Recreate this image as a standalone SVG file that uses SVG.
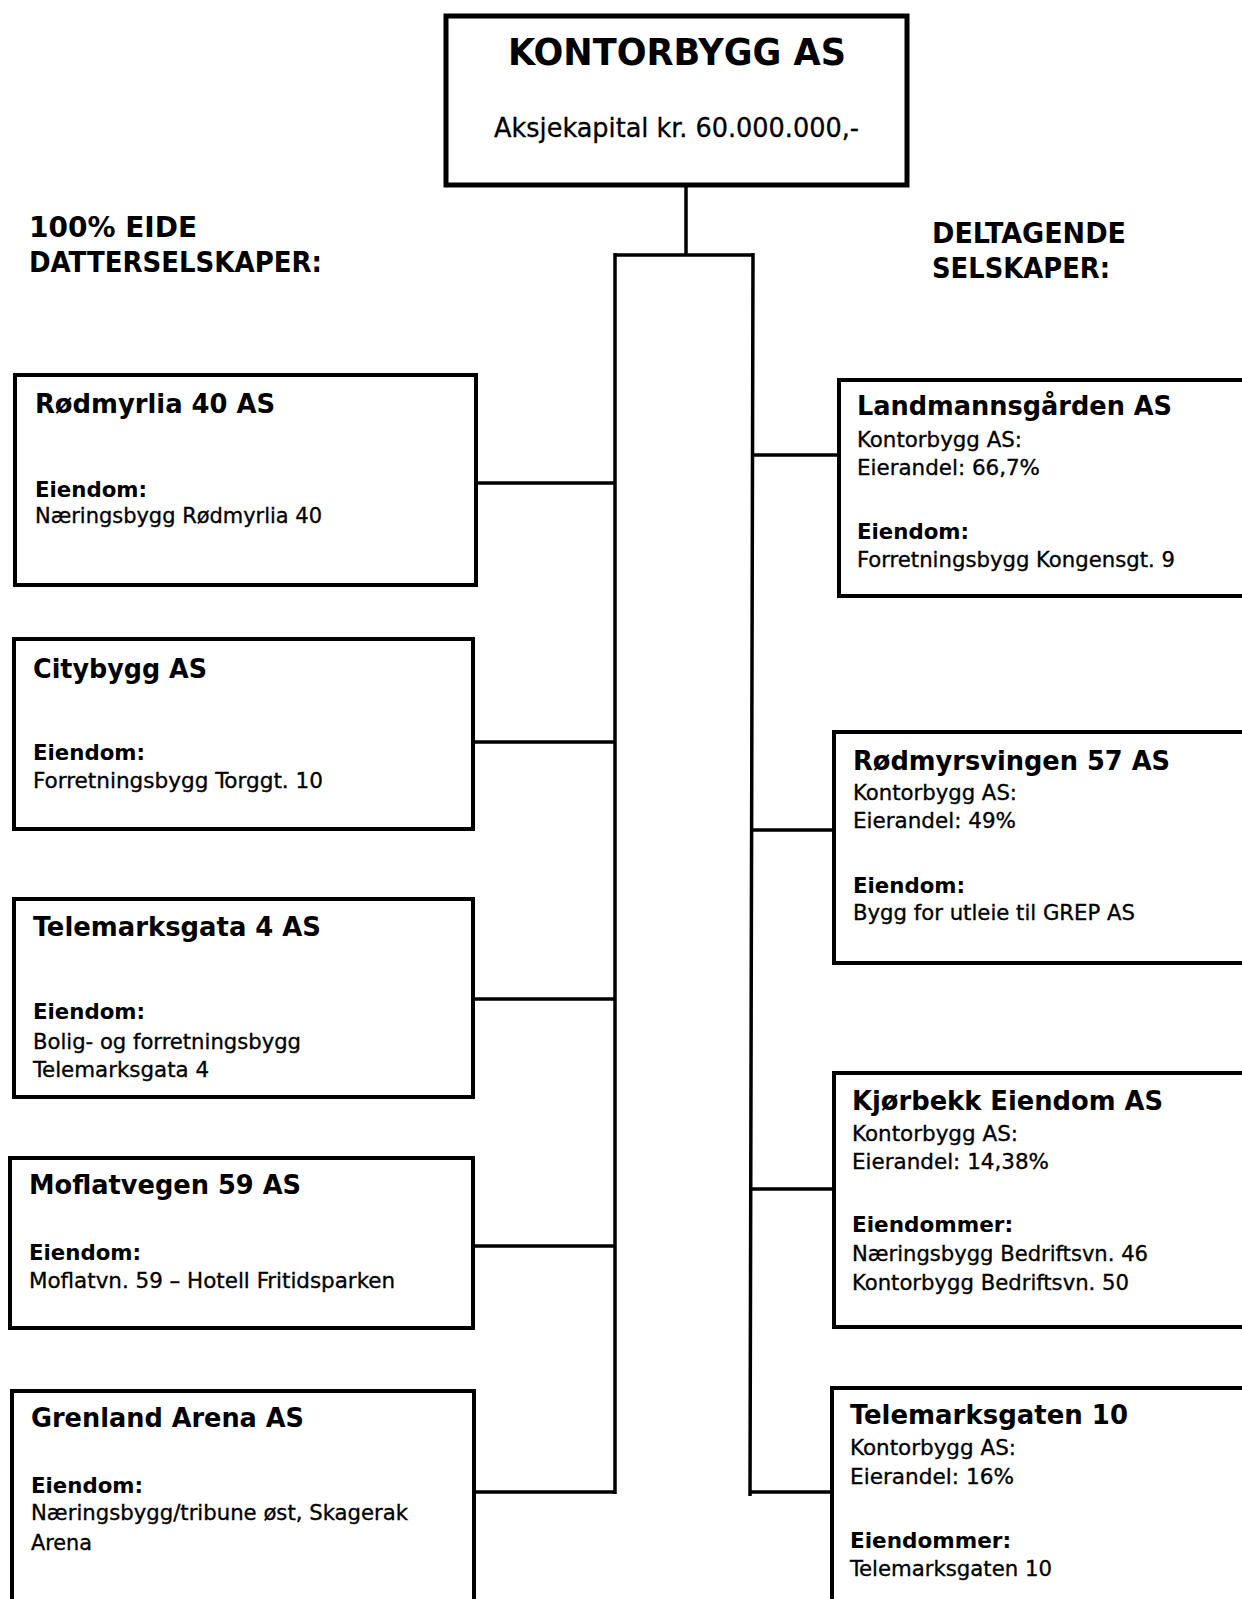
<svg xmlns="http://www.w3.org/2000/svg" width="1242" height="1599" viewBox="0 0 1242 1599">
<style>
text{font-family:"DejaVu Sans Condensed","DejaVu Sans",Verdana,sans-serif;fill:#000}
.t{font-size:27px;font-weight:bold}
.b{font-size:21px;font-weight:bold}
.n{font-size:21px;stroke:#000;stroke-width:0.3}
.h{font-size:28px;font-weight:bold}
.box{fill:#fff;stroke:#000;stroke-width:4}
.c{stroke:#000;stroke-width:3.5;fill:none}
</style>
<rect width="1242" height="1599" fill="#fff"/>
<g id="connectors">
<path class="c" d="M686,187 V255 M615,255 H753 M615,253 V1494 M753,253 L750,1496"/>
<path class="c" d="M478,483 H615 M475,742 H615 M475,999 H615 M475,1246 H615 M476,1492 H615"/>
<path class="c" d="M753,455 H837 M752,830 H832 M751,1189 H832 M750,1492 H830"/>
</g>
<g id="kontorbygg">
<rect x="446" y="16" width="461" height="169" fill="#fff" stroke="#000" stroke-width="5"/>
<text x="508" y="65" font-size="37" font-weight="bold" textLength="338" lengthAdjust="spacingAndGlyphs">KONTORBYGG AS</text>
<text x="494" y="137" font-size="27" stroke="#000" stroke-width="0.3" textLength="365" lengthAdjust="spacingAndGlyphs">Aksjekapital kr. 60.000.000,-</text>
</g>
<g id="header-left">
<text class="h" x="29" y="237" textLength="168" lengthAdjust="spacingAndGlyphs">100% EIDE</text>
<text class="h" x="29" y="272" textLength="293" lengthAdjust="spacingAndGlyphs">DATTERSELSKAPER:</text>
</g>
<g id="header-right">
<text class="h" x="932" y="243" textLength="194" lengthAdjust="spacingAndGlyphs">DELTAGENDE</text>
<text class="h" x="932" y="278" textLength="178" lengthAdjust="spacingAndGlyphs">SELSKAPER:</text>
</g>
<g id="rodmyrlia">
<rect class="box" x="15" y="375" width="461" height="210"/>
<text class="t" x="35" y="413" textLength="240" lengthAdjust="spacingAndGlyphs">Rødmyrlia 40 AS</text>
<text class="b" x="35" y="497" textLength="112" lengthAdjust="spacingAndGlyphs">Eiendom:</text>
<text class="n" x="35" y="523" textLength="287" lengthAdjust="spacingAndGlyphs">Næringsbygg Rødmyrlia 40</text>
</g>
<g id="citybygg">
<rect class="box" x="14" y="639" width="459" height="190"/>
<text class="t" x="33" y="678" textLength="174" lengthAdjust="spacingAndGlyphs">Citybygg AS</text>
<text class="b" x="33" y="760" textLength="112" lengthAdjust="spacingAndGlyphs">Eiendom:</text>
<text class="n" x="33" y="788" textLength="290" lengthAdjust="spacingAndGlyphs">Forretningsbygg Torggt. 10</text>
</g>
<g id="telemarksgata4">
<rect class="box" x="14" y="899" width="459" height="198"/>
<text class="t" x="33" y="936" textLength="288" lengthAdjust="spacingAndGlyphs">Telemarksgata 4 AS</text>
<text class="b" x="33" y="1019" textLength="112" lengthAdjust="spacingAndGlyphs">Eiendom:</text>
<text class="n" x="33" y="1049" textLength="268" lengthAdjust="spacingAndGlyphs">Bolig- og forretningsbygg</text>
<text class="n" x="33" y="1077" textLength="176" lengthAdjust="spacingAndGlyphs">Telemarksgata 4</text>
</g>
<g id="moflatvegen">
<rect class="box" x="10" y="1158" width="463" height="170"/>
<text class="t" x="29" y="1194" textLength="272" lengthAdjust="spacingAndGlyphs">Moflatvegen 59 AS</text>
<text class="b" x="29" y="1260" textLength="112" lengthAdjust="spacingAndGlyphs">Eiendom:</text>
<text class="n" x="29" y="1288" textLength="366" lengthAdjust="spacingAndGlyphs">Moflatvn. 59 – Hotell Fritidsparken</text>
</g>
<g id="grenland">
<rect class="box" x="12" y="1391" width="462" height="260"/>
<text class="t" x="31" y="1427" textLength="273" lengthAdjust="spacingAndGlyphs">Grenland Arena AS</text>
<text class="b" x="31" y="1493" textLength="112" lengthAdjust="spacingAndGlyphs">Eiendom:</text>
<text class="n" x="31" y="1520" textLength="377" lengthAdjust="spacingAndGlyphs">Næringsbygg/tribune øst, Skagerak</text>
<text class="n" x="31" y="1550" textLength="61" lengthAdjust="spacingAndGlyphs">Arena</text>
</g>
<g id="landmannsgarden">
<rect class="box" x="839" y="380" width="440" height="216"/>
<text class="t" x="857" y="415" textLength="315" lengthAdjust="spacingAndGlyphs">Landmannsgården AS</text>
<text class="n" x="857" y="447" textLength="165" lengthAdjust="spacingAndGlyphs">Kontorbygg AS:</text>
<text class="n" x="857" y="475" textLength="183" lengthAdjust="spacingAndGlyphs">Eierandel: 66,7%</text>
<text class="b" x="857" y="539" textLength="112" lengthAdjust="spacingAndGlyphs">Eiendom:</text>
<text class="n" x="857" y="567" textLength="318" lengthAdjust="spacingAndGlyphs">Forretningsbygg Kongensgt. 9</text>
</g>
<g id="rodmyrsvingen">
<rect class="box" x="834" y="732" width="440" height="231"/>
<text class="t" x="853" y="770" textLength="317" lengthAdjust="spacingAndGlyphs">Rødmyrsvingen 57 AS</text>
<text class="n" x="853" y="800" textLength="164" lengthAdjust="spacingAndGlyphs">Kontorbygg AS:</text>
<text class="n" x="853" y="828" textLength="163" lengthAdjust="spacingAndGlyphs">Eierandel: 49%</text>
<text class="b" x="853" y="893" textLength="112" lengthAdjust="spacingAndGlyphs">Eiendom:</text>
<text class="n" x="853" y="920" textLength="282" lengthAdjust="spacingAndGlyphs">Bygg for utleie til GREP AS</text>
</g>
<g id="kjorbekk">
<rect class="box" x="834" y="1073" width="440" height="254"/>
<text class="t" x="852" y="1110" textLength="311" lengthAdjust="spacingAndGlyphs">Kjørbekk Eiendom AS</text>
<text class="n" x="852" y="1141" textLength="166" lengthAdjust="spacingAndGlyphs">Kontorbygg AS:</text>
<text class="n" x="852" y="1169" textLength="197" lengthAdjust="spacingAndGlyphs">Eierandel: 14,38%</text>
<text class="b" x="852" y="1232" textLength="161" lengthAdjust="spacingAndGlyphs">Eiendommer:</text>
<text class="n" x="852" y="1261" textLength="296" lengthAdjust="spacingAndGlyphs">Næringsbygg Bedriftsvn. 46</text>
<text class="n" x="852" y="1290" textLength="277" lengthAdjust="spacingAndGlyphs">Kontorbygg Bedriftsvn. 50</text>
</g>
<g id="telemarksgaten10">
<rect class="box" x="832" y="1388" width="440" height="300"/>
<text class="t" x="850" y="1424" textLength="278" lengthAdjust="spacingAndGlyphs">Telemarksgaten 10</text>
<text class="n" x="850" y="1455" textLength="166" lengthAdjust="spacingAndGlyphs">Kontorbygg AS:</text>
<text class="n" x="850" y="1484" textLength="164" lengthAdjust="spacingAndGlyphs">Eierandel: 16%</text>
<text class="b" x="850" y="1548" textLength="161" lengthAdjust="spacingAndGlyphs">Eiendommer:</text>
<text class="n" x="850" y="1576" textLength="202" lengthAdjust="spacingAndGlyphs">Telemarksgaten 10</text>
</g>
</svg>
